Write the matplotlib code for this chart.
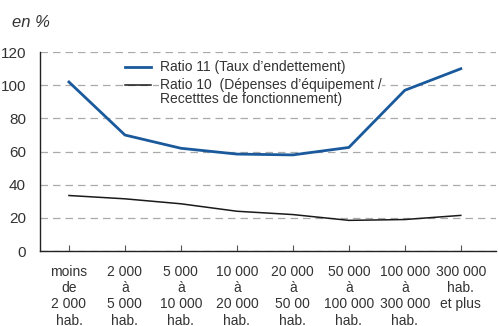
import matplotlib.pyplot as plt

plt.rcParams['font.family'] = ['Liberation Sans', 'DejaVu Sans']

strates = ["moins\nde\n2 000\nhab.", "2 000\nà\n5 000\nhab.", "5 000\nà\n10 000\nhab.",
           "10 000\nà\n20 000\nhab.", "20 000\nà\n50 00\nhab.", "50 000\nà\n100 000\nhab.",
           "100 000\nà\n300 000\nhab.", "300 000\nhab.\net plus"]
ratio11 = [102, 70, 62, 58.5, 58, 62.5, 97, 110]
ratio10 = [33.5, 31.5, 28.5, 24, 22, 18.5, 19, 21.5]

blue = '#1a5a9c'
dark = '#1a1a1a'
txt = '#333333'

fig = plt.figure(figsize=(4.98, 3.26), dpi=100)
ax = fig.add_axes([0.080, 0.230, 0.915, 0.610])

x = range(len(strates))
ax.plot(x, ratio11, color=blue, lw=2.0)
ax.plot(x, ratio10, color=dark, lw=1.1)

ax.set_ylim(0, 120)
ax.set_xlim(-0.52, 7.62)
ax.set_yticks(range(0, 121, 20))
ax.yaxis.grid(True, color='#aaaaaa', ls=(0, (6, 4)), lw=0.9)
ax.set_axisbelow(True)

ax.set_xticks(list(x))
ax.set_xticklabels(strates, color=txt, fontsize=10, linespacing=1.2)
ax.tick_params(axis='x', direction='in', length=4, color='#555555', pad=10)
ax.tick_params(axis='y', length=0, pad=10, labelsize=11, labelcolor=txt)

for s in ['top', 'right']:
    ax.spines[s].set_visible(False)
for s in ['left', 'bottom']:
    ax.spines[s].set_color('#222222')
    ax.spines[s].set_linewidth(1.0)

# legend drawn by hand so the second handle sits on the first text line
tr = ax.transAxes
ax.plot([0.1865, 0.2436], [0.925, 0.925], color=blue, lw=2.0, transform=tr, clip_on=False)
ax.plot([0.1865, 0.2436], [0.834, 0.834], color=dark, lw=1.1, transform=tr, clip_on=False)
kw = dict(transform=tr, fontsize=10, color=txt, va='center', ha='left',
          bbox=dict(fc='white', ec='none', pad=0.5))
ax.text(0.263, 0.925, "Ratio 11 (Taux d\u2019endettement)", **kw)
ax.text(0.263, 0.834, "Ratio 10  (Dépenses d\u2019équipement /", **kw)
ax.text(0.263, 0.762, "Recetttes de fonctionnement)", **kw)

fig.text(0.024, 0.93, "en %", fontsize=12, style='italic', color=txt, va='center')

fig.savefig('out.png', dpi=100)
